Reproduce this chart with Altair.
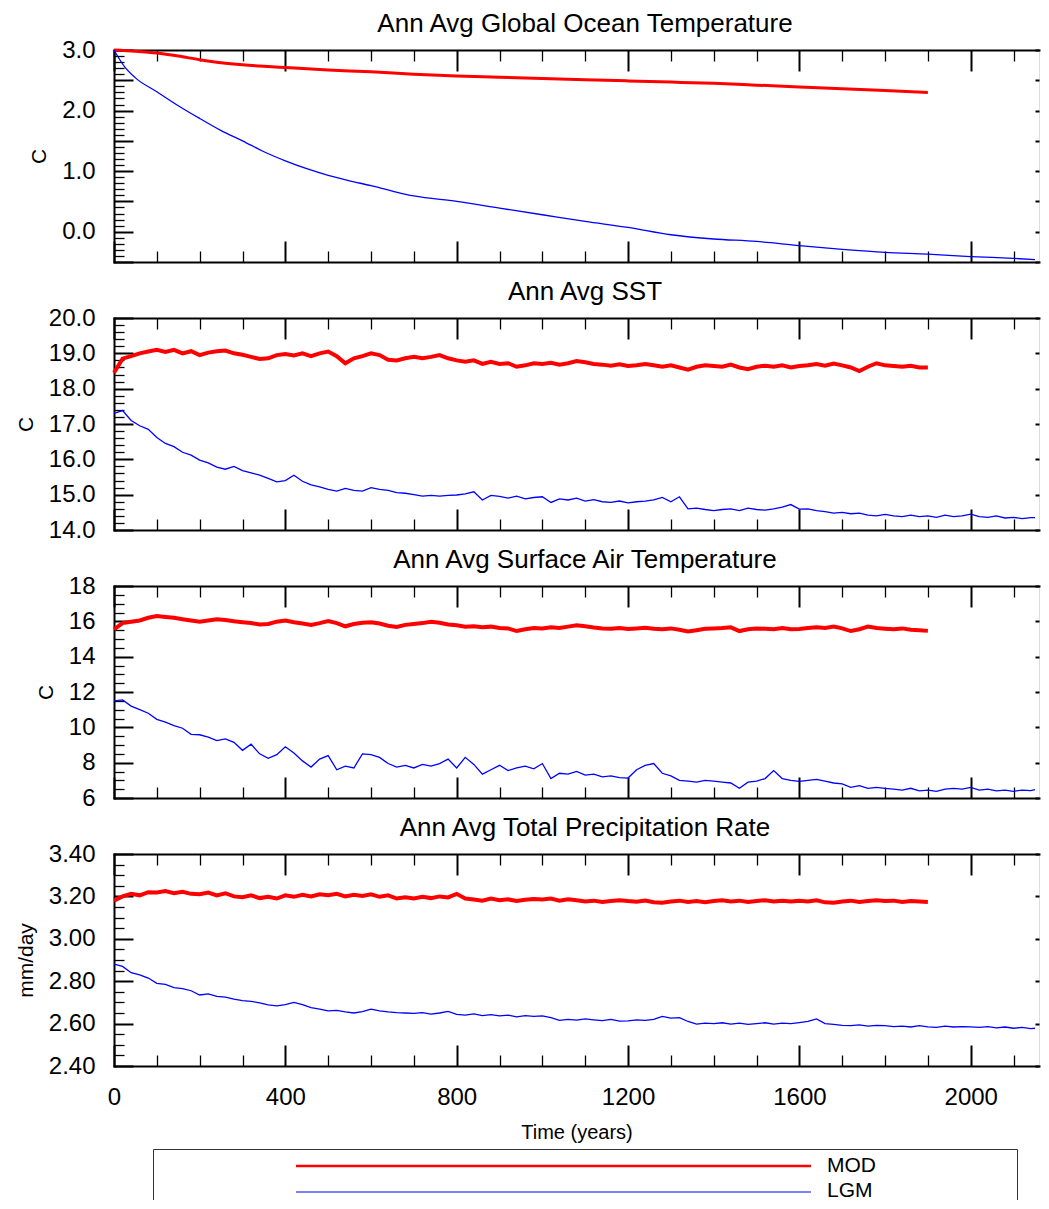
import altair as alt
import pandas as pd

FONT = "Liberation Sans"
MOD_COLOR = "#ff0000"
LGM_COLOR = "#0000ff"
# plot area: 0 yr at page x=113, 0.42835 px per year; right part of the
# original frame lies outside the picture, so the area stops at the page edge
W, H = 925, 212
XMAX = 2159.4

TITLES = ["Ann Avg Global Ocean Temperature", "Ann Avg SST",
          "Ann Avg Surface Air Temperature", "Ann Avg Total Precipitation Rate"]
YTITLES = ["C", "C", "C", "mm/day"]
YDOMAINS = [[-0.5, 3.0], [14.0, 20.0], [6.0, 18.0], [2.4, 3.4]]
YLABELS = [[0.0, 1.0, 2.0, 3.0],
           [14.0, 15.0, 16.0, 17.0, 18.0, 19.0, 20.0],
           [6, 8, 10, 12, 14, 16, 18],
           [2.4, 2.6, 2.8, 3.0, 3.2, 3.4]]
YFORMATS = [".1f", ".1f", "d", ".2f"]
YMAJOR_STEP = [0.5, 1.0, 2.0, 0.2]
YMINOR_STEP = [0.1, 0.2, 0.5, 0.05]
XLABELS = [0, 400, 800, 1200, 1600, 2000]
XMAJOR = [0, 400, 800, 1200, 1600, 2000]
XMINOR = [100, 200, 300, 500, 600, 700, 900, 1000, 1100, 1300, 1400, 1500,
          1700, 1800, 1900, 2100]
LEGEND_LABELS = ["MOD", "LGM"]

# ---- Panel 1: global ocean temperature (smooth)
P1_MOD_YEARS = [0, 50, 100, 150, 200, 250, 300, 350, 400, 500, 600, 700, 800, 900,
                1000, 1100, 1200, 1300, 1400, 1500, 1600, 1700, 1800, 1900]
P1_MOD = [3.00, 2.98, 2.95, 2.90, 2.84, 2.79, 2.755, 2.73, 2.71, 2.67, 2.64, 2.60,
          2.57, 2.55, 2.53, 2.51, 2.49, 2.47, 2.45, 2.42, 2.39, 2.36, 2.33, 2.30]
P1_LGM_YEARS = [0, 10, 25, 50, 100, 150, 200, 250, 300, 350, 400, 450, 500, 550, 600,
                650, 700, 800, 900, 1000, 1100, 1200, 1300, 1400, 1500, 1600, 1700,
                1800, 1900, 2000, 2100, 2150]
P1_LGM = [3.00, 2.88, 2.72, 2.54, 2.31, 2.08, 1.87, 1.67, 1.50, 1.32, 1.17, 1.04,
          0.93, 0.84, 0.76, 0.67, 0.59, 0.50, 0.39, 0.28, 0.17, 0.07, -0.05, -0.12,
          -0.16, -0.23, -0.29, -0.34, -0.37, -0.41, -0.44, -0.46]

# years for the annual (noisy) panels, read every 20 years
YEARS_MOD = [20 * k for k in range(96)]            # 0 .. 1900
YEARS_LGM = [20 * k for k in range(108)] + [2150]  # 0 .. 2140, 2150

# ---- Panel 2: SST
P2_MOD = [18.45, 18.85, 18.92, 19.00, 19.05, 19.10, 19.04, 19.10, 19.00, 19.06,
          18.95, 19.02, 19.06, 19.08, 19.00, 18.96, 18.90, 18.84, 18.86, 18.95,
          18.98, 18.94, 19.00, 18.92, 19.00, 19.05, 18.92, 18.72, 18.86, 18.92,
          19.00, 18.95, 18.82, 18.80, 18.86, 18.90, 18.86, 18.90, 18.95, 18.86,
          18.80, 18.76, 18.80, 18.70, 18.76, 18.70, 18.72, 18.62, 18.66, 18.72,
          18.70, 18.73, 18.68, 18.72, 18.78, 18.75, 18.70, 18.68, 18.65, 18.69,
          18.64, 18.66, 18.70, 18.66, 18.62, 18.66, 18.60, 18.54, 18.62, 18.66,
          18.64, 18.62, 18.68, 18.60, 18.55, 18.62, 18.65, 18.62, 18.66, 18.60,
          18.64, 18.66, 18.70, 18.65, 18.71, 18.66, 18.60, 18.50, 18.62, 18.72,
          18.66, 18.64, 18.62, 18.65, 18.60, 18.60]
P2_LGM = [17.30, 17.38, 17.10, 16.95, 16.85, 16.62, 16.45, 16.36, 16.20, 16.12,
          15.98, 15.90, 15.78, 15.72, 15.80, 15.68, 15.62, 15.55, 15.46, 15.36,
          15.40, 15.55, 15.38, 15.28, 15.22, 15.15, 15.10, 15.18, 15.12, 15.10,
          15.20, 15.15, 15.12, 15.06, 15.04, 15.00, 14.96, 14.98, 14.96, 14.98,
          14.99, 15.02, 15.08, 14.85, 14.98, 14.95, 14.90, 14.96, 14.88, 14.92,
          14.94, 14.78, 14.88, 14.85, 14.90, 14.82, 14.86, 14.80, 14.78, 14.82,
          14.77, 14.80, 14.82, 14.85, 14.92, 14.80, 14.94, 14.60, 14.62, 14.58,
          14.55, 14.58, 14.60, 14.55, 14.62, 14.58, 14.56, 14.60, 14.65, 14.72,
          14.59, 14.60, 14.55, 14.52, 14.48, 14.50, 14.46, 14.48, 14.42, 14.40,
          14.44, 14.40, 14.38, 14.42, 14.38, 14.40, 14.36, 14.42, 14.38, 14.40,
          14.45, 14.38, 14.36, 14.40, 14.34, 14.36, 14.32, 14.35, 14.35]

# ---- Panel 3: surface air temperature
P3_MOD = [15.55, 15.90, 15.98, 16.05, 16.20, 16.30, 16.25, 16.20, 16.12, 16.05,
          15.98, 16.05, 16.12, 16.08, 16.00, 15.95, 15.90, 15.82, 15.85, 15.98,
          16.05, 15.95, 15.88, 15.80, 15.90, 16.02, 15.90, 15.72, 15.85, 15.92,
          15.95, 15.88, 15.75, 15.68, 15.80, 15.85, 15.90, 15.98, 15.92, 15.82,
          15.78, 15.70, 15.72, 15.66, 15.70, 15.62, 15.60, 15.45, 15.55, 15.62,
          15.60, 15.66, 15.62, 15.70, 15.78, 15.72, 15.65, 15.60, 15.58, 15.62,
          15.57, 15.60, 15.64, 15.58, 15.55, 15.60, 15.52, 15.42, 15.50, 15.58,
          15.60, 15.62, 15.66, 15.45, 15.55, 15.60, 15.58, 15.55, 15.62, 15.55,
          15.57, 15.62, 15.66, 15.62, 15.70, 15.60, 15.45, 15.55, 15.70, 15.62,
          15.58, 15.55, 15.60, 15.52, 15.50, 15.46]
P3_LGM = [11.50, 11.55, 11.20, 11.00, 10.80, 10.45, 10.30, 10.10, 9.95, 9.60,
          9.58, 9.45, 9.25, 9.35, 9.15, 8.70, 9.05, 8.50, 8.25, 8.45,
          8.90, 8.55, 8.10, 7.75, 8.20, 8.40, 7.60, 7.80, 7.70, 8.50,
          8.45, 8.30, 7.95, 7.75, 7.85, 7.70, 7.90, 7.80, 7.95, 8.20,
          7.70, 8.30, 7.90, 7.35, 7.60, 7.85, 7.55, 7.70, 7.80, 7.65,
          7.95, 7.10, 7.40, 7.35, 7.50, 7.30, 7.35, 7.20, 7.25, 7.15,
          7.13, 7.60, 7.85, 7.95, 7.40, 7.25, 7.00, 6.95, 6.90, 7.00,
          6.95, 6.90, 6.85, 6.55, 6.90, 6.95, 7.10, 7.55, 7.10, 7.00,
          6.94, 7.00, 7.05, 6.95, 6.85, 6.80, 6.60, 6.70, 6.55, 6.60,
          6.55, 6.50, 6.45, 6.55, 6.40, 6.45, 6.38, 6.50, 6.55, 6.50,
          6.60, 6.45, 6.50, 6.40, 6.45, 6.38, 6.45, 6.42, 6.47]

# ---- Panel 4: total precipitation rate
P4_MOD = [3.180, 3.200, 3.212, 3.205, 3.220, 3.218, 3.225, 3.215, 3.222, 3.212,
          3.210, 3.218, 3.205, 3.215, 3.200, 3.196, 3.205, 3.192, 3.198, 3.190,
          3.205, 3.198, 3.208, 3.200, 3.210, 3.205, 3.212, 3.200, 3.208, 3.202,
          3.210, 3.198, 3.205, 3.190, 3.196, 3.190, 3.198, 3.192, 3.200, 3.195,
          3.212, 3.190, 3.185, 3.180, 3.190, 3.182, 3.186, 3.178, 3.184, 3.188,
          3.185, 3.190, 3.180, 3.186, 3.182, 3.176, 3.180, 3.174, 3.178, 3.182,
          3.178, 3.175, 3.180, 3.172, 3.170, 3.176, 3.180, 3.174, 3.178, 3.172,
          3.178, 3.182, 3.176, 3.180, 3.174, 3.178, 3.182, 3.176, 3.180, 3.176,
          3.180, 3.176, 3.182, 3.172, 3.170, 3.176, 3.180, 3.174, 3.178, 3.182,
          3.178, 3.180, 3.174, 3.178, 3.176, 3.174]
P4_LGM = [2.880, 2.870, 2.840, 2.830, 2.815, 2.790, 2.785, 2.770, 2.765, 2.755,
          2.735, 2.740, 2.728, 2.725, 2.715, 2.708, 2.705, 2.698, 2.688, 2.684,
          2.690, 2.700, 2.690, 2.675, 2.668, 2.660, 2.662, 2.655, 2.650, 2.656,
          2.668, 2.660, 2.655, 2.652, 2.650, 2.648, 2.652, 2.645, 2.650, 2.658,
          2.644, 2.640, 2.646, 2.638, 2.642, 2.636, 2.640, 2.632, 2.638, 2.634,
          2.636, 2.628, 2.615, 2.620, 2.616, 2.622, 2.618, 2.614, 2.620, 2.612,
          2.613, 2.618, 2.615, 2.620, 2.634, 2.626, 2.628, 2.610, 2.598, 2.602,
          2.600, 2.604, 2.598, 2.602, 2.596, 2.600, 2.604, 2.598, 2.602, 2.600,
          2.605, 2.610, 2.622, 2.600, 2.596, 2.592, 2.590, 2.594, 2.588, 2.592,
          2.590, 2.586, 2.588, 2.584, 2.590, 2.585, 2.582, 2.588, 2.584, 2.586,
          2.585, 2.582, 2.586, 2.580, 2.584, 2.578, 2.582, 2.576, 2.578]


def tick_list(lo, hi, step):
    n = int(round((hi - lo) / step))
    return [round(lo + k * step, 4) for k in range(n + 1)]


def tick_axis(orient, offset, values, size, width, domain=False):
    if domain:
        kw = dict(domain=True, domainColor="black", domainWidth=2, domainCap="square")
    else:
        kw = dict(domain=False)
    return alt.Axis(orient=orient, offset=offset, values=values, labels=False,
                    grid=False, ticks=True, tickSize=size, tickWidth=width,
                    tickColor="black", title=None, **kw)


def make_panel(i, mod_years, mod_vals, lgm_years, lgm_vals, interp, red_w, bottom, extras):
    lo, hi = YDOMAINS[i]
    xs = alt.Scale(domain=[0, XMAX], nice=False, zero=False)
    ys = alt.Scale(domain=[lo, hi], nice=False, zero=False)
    mod_df = pd.DataFrame({"year": mod_years, "value": mod_vals})
    lgm_df = pd.DataFrame({"year": lgm_years, "value": lgm_vals})
    ymaj = tick_list(lo, hi, YMAJOR_STEP[i])
    yall = tick_list(lo, hi, YMINOR_STEP[i])
    ymin = [v for v in yall if all(abs(v - m) > 1e-6 for m in ymaj)]
    kw = {"interpolate": interp} if interp else {}

    ya = alt.Axis(orient="left", values=YLABELS[i], format=YFORMATS[i], ticks=False,
                  tickSize=0, domain=False, grid=False, labelFont=FONT,
                  labelFontSize=24, labelPadding=19, labelColor="black",
                  title=YTITLES[i], titleFont=FONT, titleFontSize=21,
                  titleFontWeight="normal", titleColor="black", titlePadding=12)
    if bottom:
        xa = alt.Axis(orient="bottom", values=XLABELS, format="d", ticks=False,
                      tickSize=0, domain=False, grid=False, labelFont=FONT,
                      labelFontSize=24, labelPadding=19, labelFlush=False,
                      labelColor="black", title="Time (years)", titleFont=FONT,
                      titleFontSize=20, titleFontWeight="normal",
                      titleColor="black", titlePadding=13)
        xenc = alt.X("year:Q", scale=xs, axis=xa)
    else:
        xenc = alt.X("year:Q", scale=xs, axis=None)

    mod = alt.Chart(mod_df).mark_line(color=MOD_COLOR, strokeWidth=red_w, **kw).encode(
        x=xenc, y=alt.Y("value:Q", scale=ys, axis=ya))
    # bottom frame + inward major ticks; left frame + inward major ticks
    lgm = alt.Chart(lgm_df).mark_line(color=LGM_COLOR, strokeWidth=1.3, **kw).encode(
        x=alt.X("year:Q", scale=xs, axis=tick_axis("top", -H, XMAJOR, 21, 2, True)),
        y=alt.Y("value:Q", scale=ys, axis=tick_axis("right", -W, ymaj, 19, 2, True)))

    def dummy(xax, yax):
        return alt.Chart(lgm_df).mark_line(opacity=0).encode(
            x=alt.X("year:Q", scale=xs, axis=xax),
            y=alt.Y("value:Q", scale=ys, axis=yax))

    d1 = dummy(tick_axis("top", -H, XMINOR, 11, 1.3), tick_axis("right", -W, ymin, 10, 1.3))
    # top frame + inward ticks; right edge: only the stubs of the major ticks
    d2 = dummy(tick_axis("bottom", -H, XMAJOR, 21, 2, True), tick_axis("left", -W, ymaj, 4, 2))
    d3 = dummy(tick_axis("bottom", -H, XMINOR, 11, 1.3), None)

    title = alt.Chart(pd.DataFrame({"t": [TITLES[i]]})).mark_text(
        font=FONT, fontSize=26, baseline="alphabetic", align="center",
        color="black").encode(text="t:N", x=alt.value(471), y=alt.value(-18))

    layers = [d1, d2, d3, mod, lgm, title] + extras
    return alt.layer(*layers).resolve_axis(x="independent", y="independent").properties(
        width=W, height=H)


one = pd.DataFrame({"k": [0]})

# invisible anchor: keeps 105 px left of and 41 px above the first plot area
anchor = alt.Chart(one).mark_rule(strokeWidth=0, color="white").encode(
    x=alt.value(-105), x2=alt.value(-105), y=alt.value(-41), y2=alt.value(-41))

# legend box and entries (below the last panel)
BOX = "#333333"
box_l = alt.Chart(one).mark_rule(color=BOX, strokeWidth=1).encode(
    x=alt.value(39.5), x2=alt.value(39.5), y=alt.value(295.5), y2=alt.value(346))
box_r = alt.Chart(one).mark_rule(color=BOX, strokeWidth=1).encode(
    x=alt.value(903.5), x2=alt.value(903.5), y=alt.value(295.5), y2=alt.value(346))
box_t = alt.Chart(one).mark_rule(color=BOX, strokeWidth=1).encode(
    x=alt.value(39.5), x2=alt.value(903.5), y=alt.value(295.5), y2=alt.value(295.5))
leg_mod = alt.Chart(one).mark_rule(color=MOD_COLOR, strokeWidth=2.5).encode(
    x=alt.value(182), x2=alt.value(697), y=alt.value(312), y2=alt.value(312))
leg_lgm = alt.Chart(one).mark_rule(color=LGM_COLOR, strokeWidth=1).encode(
    x=alt.value(182), x2=alt.value(697), y=alt.value(338), y2=alt.value(338))
lab_mod = alt.Chart(pd.DataFrame({"t": [LEGEND_LABELS[0]]})).mark_text(
    font=FONT, fontSize=21, align="left", baseline="middle", color="black").encode(
    text="t:N", x=alt.value(713), y=alt.value(312))
lab_lgm = alt.Chart(pd.DataFrame({"t": [LEGEND_LABELS[1]]})).mark_text(
    font=FONT, fontSize=21, align="left", baseline="middle", color="black").encode(
    text="t:N", x=alt.value(713), y=alt.value(337))

p1 = make_panel(0, P1_MOD_YEARS, P1_MOD, P1_LGM_YEARS, P1_LGM, "monotone", 3, False, [anchor])
p2 = make_panel(1, YEARS_MOD, P2_MOD, YEARS_LGM, P2_LGM, None, 4, False, [])
p3 = make_panel(2, YEARS_MOD, P3_MOD, YEARS_LGM, P3_LGM, None, 4, False, [])
p4 = make_panel(3, YEARS_MOD, P4_MOD, YEARS_LGM, P4_LGM, None, 4, True,
                [box_l, box_r, box_t, leg_mod, leg_lgm, lab_mod, lab_lgm])

chart = alt.vconcat(p1, p2, p3, p4, spacing=56, bounds="flush", padding=0).configure_view(
    strokeWidth=0, stroke="transparent").configure(background="white", font=FONT)

chart.save("out.html", embed_options={"renderer": "svg", "actions": False})
